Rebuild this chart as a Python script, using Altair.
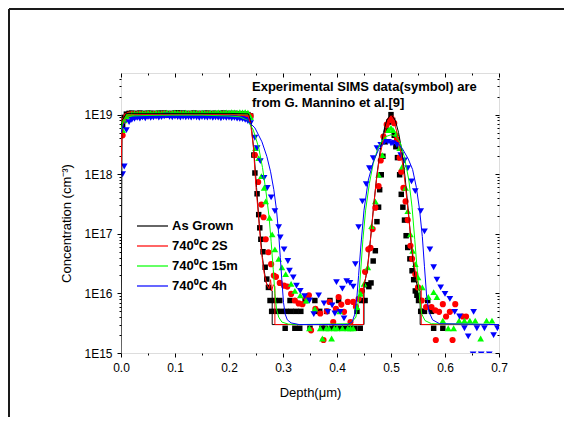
import altair as alt
import pandas as pd

# ---------------- data ----------------
series_names = ["As Grown", "740\u2070C 2S", "740\u2070C 15m", "740\u2070C 4h"]
series_colors = ["#000000", "#FF0000", "#00FF00", "#0000FF"]

plateau_depth = [0.003, 0.006, 0.01, 0.015, 0.02, 0.025, 0.03, 0.035, 0.04, 0.045, 0.05, 0.055,
                 0.06, 0.065, 0.07, 0.075, 0.08, 0.085, 0.09, 0.095, 0.1, 0.105, 0.11, 0.115,
                 0.12, 0.125, 0.13, 0.135, 0.14, 0.145, 0.15, 0.155, 0.16, 0.165, 0.17, 0.175,
                 0.18, 0.185, 0.19, 0.195, 0.2, 0.205, 0.21, 0.215, 0.22, 0.225, 0.23, 0.235, 0.24]

black_plateau = [6.5e18, 9e18, 1.02e19, 1.05e19, 1.06e19, 1.04e19, 1.05e19, 1.06e19, 1.05e19, 1.04e19,
                 1.06e19, 1.05e19, 1.05e19, 1.04e19, 1.06e19, 1.05e19, 1.06e19, 1.05e19, 1.04e19, 1.05e19,
                 1.06e19, 1.07e19, 1.05e19, 1.06e19, 1.05e19, 1.04e19, 1.05e19, 1.06e19, 1.05e19, 1.04e19,
                 1.05e19, 1.05e19, 1.06e19, 1.04e19, 1.05e19, 1.05e19, 1.04e19, 1.05e19, 1.06e19, 1.04e19,
                 1.05e19, 1.04e19, 1.05e19, 1.04e19, 1.03e19, 1.04e19, 1.02e19, 1.0e19, 9.5e18]
red_plateau = [4.5e18, 8e18, 9.5e18, 1.0e19, 1.02e19, 1.0e19, 1.01e19, 1.02e19, 1.0e19, 1.01e19,
               1.02e19, 1.0e19, 1.01e19, 1.02e19, 1.0e19, 1.01e19, 1.03e19, 1.01e19, 1.0e19, 1.02e19,
               1.01e19, 1.0e19, 1.02e19, 1.01e19, 1.0e19, 1.01e19, 1.02e19, 1.0e19, 1.01e19, 1.02e19,
               1.0e19, 1.01e19, 1.02e19, 1.01e19, 1.0e19, 1.02e19, 1.01e19, 1.0e19, 1.02e19, 1.01e19,
               1.0e19, 1.01e19, 1.02e19, 1.01e19, 1.0e19, 1.01e19, 1.0e19, 9.8e18, 9.5e18]
green_plateau = [5.5e18, 8e18, 9.5e18, 1.0e19, 1.03e19, 1.05e19, 1.04e19, 1.05e19, 1.06e19, 1.05e19,
                 1.07e19, 1.06e19, 1.05e19, 1.07e19, 1.06e19, 1.05e19, 1.07e19, 1.08e19, 1.06e19, 1.07e19,
                 1.08e19, 1.07e19, 1.06e19, 1.07e19, 1.08e19, 1.06e19, 1.07e19, 1.08e19, 1.07e19, 1.06e19,
                 1.08e19, 1.07e19, 1.06e19, 1.08e19, 1.07e19, 1.08e19, 1.09e19, 1.07e19, 1.08e19, 1.09e19,
                 1.08e19, 1.1e19, 1.09e19, 1.08e19, 1.1e19, 1.09e19, 1.1e19, 1.08e19, 9e18]
blue_plateau = [1.0e18, 1.35e18, 5.5e18, 7.5e18, 8.2e18, 8.5e18, 8.8e18, 8.6e18, 9e18, 8.7e18,
                9.1e18, 8.8e18, 9e18, 9.3e18, 8.9e18, 9.1e18, 9.4e18, 9.6e18, 9.2e18, 9e18,
                9.3e18, 9.1e18, 8.9e18, 9.2e18, 9e18, 9.1e18, 8.9e18, 9.2e18, 9e18, 8.8e18,
                9.1e18, 9e18, 8.9e18, 9.1e18, 8.8e18, 9e18, 8.9e18, 8.7e18, 9e18, 8.8e18,
                8.9e18, 8.7e18, 8.8e18, 8.6e18, 8.5e18, 8.4e18, 8.2e18, 7.8e18, 7.2e18]

black_tail_x = [0.246, 0.248, 0.252, 0.255, 0.257, 0.259, 0.263, 0.267, 0.270, 0.273, 0.276, 0.279,
                0.285, 0.288, 0.294, 0.297, 0.304, 0.306, 0.313, 0.315, 0.322, 0.324, 0.331, 0.333,
                0.341, 0.350, 0.359, 0.361, 0.368, 0.372, 0.378, 0.381, 0.387, 0.390, 0.396, 0.403,
                0.406, 0.415, 0.424, 0.433, 0.437, 0.443, 0.446, 0.452, 0.455, 0.459, 0.463, 0.467,
                0.471, 0.474, 0.477, 0.479, 0.482, 0.485, 0.489, 0.492, 0.496, 0.500, 0.503, 0.506,
                0.509, 0.512, 0.516, 0.519, 0.522, 0.525, 0.528, 0.531, 0.535, 0.539, 0.542, 0.545,
                0.548, 0.551, 0.555, 0.562, 0.568, 0.575, 0.579, 0.596]
black_tail_y = [2.1e18, 1.05e18, 4.7e17, 2.1e17, 1.26e17, 8.1e16, 5.0e16, 2.75e16, 1.74e16, 1.26e16, 7.6e15, 5.0e15,
                7.6e15, 5.0e15, 7.6e15, 5.0e15, 2.6e15, 5.0e15, 7.6e15, 5.0e15, 2.6e15, 5.0e15, 2.6e15, 5.0e15,
                7.6e15, 2.6e15, 7.6e15, 5.0e15, 5.0e15, 2.6e15, 2.6e15, 5.0e15, 7.6e15, 2.6e15, 2.6e15, 7.6e15,
                2.6e15, 2.6e15, 2.6e15, 2.6e15, 5.0e15, 2.6e15, 7.6e15, 7.6e15, 1.4e16, 1.3e16, 1.5e16, 3.5e16,
                5.2e16, 1.6e17, 2.8e17, 5.5e17, 9.8e17, 2.0e18, 3.5e18, 5.5e18, 7.5e18, 1.0e19, 8.0e18, 4.5e18,
                2.9e18, 1.9e18, 9.8e17, 4.6e17, 2.8e17, 1.7e17, 9.3e16, 5.9e16, 3.8e16, 2.4e16, 1.7e16, 1.1e16,
                9.3e15, 7.6e15, 5.0e15, 5.0e15, 7.6e15, 5.0e15, 2.6e15, 2.6e15]

red_tail_x = [0.248, 0.254, 0.260, 0.264, 0.268, 0.273, 0.278, 0.283, 0.287, 0.294, 0.302, 0.308,
              0.315, 0.322, 0.329, 0.336, 0.343, 0.348, 0.352, 0.360, 0.369, 0.375, 0.381, 0.386,
              0.393, 0.398, 0.403, 0.408, 0.413, 0.420, 0.425, 0.430, 0.435, 0.440, 0.446, 0.452,
              0.458, 0.462, 0.466, 0.471, 0.477, 0.481, 0.486, 0.492, 0.498, 0.501, 0.506, 0.511,
              0.516, 0.519, 0.523, 0.527, 0.531, 0.536, 0.539, 0.545, 0.550, 0.557, 0.565, 0.575,
              0.582, 0.583, 0.589, 0.596, 0.602, 0.609, 0.614, 0.619, 0.633, 0.639]
red_tail_y = [2.1e18, 7.4e17, 3.1e17, 1.9e17, 8.1e16, 4.9e16, 3.1e16, 2.0e16, 1.9e16, 1.5e16, 1.35e16, 1.3e16,
              9.8e15, 7.6e15, 6.8e15, 6.6e15, 8.5e15, 9.3e15, 2.4e15, 5.5e15, 4.6e15, 1.65e15, 5.0e15, 7.2e15,
              3.3e15, 5.5e15, 8.7e15, 6.5e15, 4.9e15, 7.2e15, 3.3e15, 7.2e15, 6.0e15, 8.1e15, 1.1e16, 2.3e16,
              5.5e16, 5.8e16, 1.2e17, 2.75e17, 6.3e17, 1.7e18, 4.3e18, 6.8e18, 8.1e18, 8.7e18, 7.2e18, 3.8e18,
              1.9e18, 1.1e18, 5.9e17, 3.5e17, 1.7e17, 6.3e16, 3.8e16, 2.1e16, 1.26e16, 7.6e15, 5.9e15, 5.9e15,
              5.2e15, 1.65e15, 4.9e15, 6.6e15, 4.1e15, 4.9e15, 1.65e15, 6.6e15, 4.1e15, 4.1e15]

green_tail_x = [0.249, 0.255, 0.260, 0.265, 0.268, 0.275, 0.280, 0.285, 0.292, 0.298, 0.305, 0.315,
                0.322, 0.332, 0.343, 0.349, 0.359, 0.369, 0.373, 0.380, 0.385, 0.390, 0.395, 0.400,
                0.405, 0.410, 0.420, 0.425, 0.430, 0.437, 0.444, 0.450, 0.457, 0.464, 0.471, 0.477,
                0.484, 0.489, 0.495, 0.500, 0.504, 0.510, 0.516, 0.521, 0.527, 0.531, 0.536, 0.540,
                0.545, 0.550, 0.558, 0.569, 0.579, 0.585, 0.596, 0.606, 0.616, 0.626, 0.636, 0.646,
                0.656, 0.666, 0.677, 0.687]
green_tail_y = [2.75e18, 1.86e18, 9.3e17, 5.9e17, 3.5e17, 1.86e17, 9.8e16, 5.5e16, 3.8e16, 2.75e16, 2.1e16, 1.45e16,
                1.1e16, 9.3e15, 7.6e15, 2.6e15, 5.5e15, 2.6e15, 1.75e15, 2.6e15, 2.6e15, 1.75e15, 2.6e15, 2.6e15,
                5.0e15, 2.6e15, 2.6e15, 2.6e15, 2.6e15, 5.9e15, 9.8e15, 1.45e16, 2.75e16, 1.35e17, 3.5e17, 9.8e17,
                2.1e18, 3.9e18, 5.5e18, 6.0e18, 5.5e18, 4.8e18, 2.75e18, 1.35e18, 5.9e17, 2.4e17, 9.8e16, 5.2e16,
                3.1e16, 1.86e16, 1.26e16, 8.7e15, 1.05e16, 8.7e15, 3.5e15, 2.6e15, 2.6e15, 3.5e15, 3.5e15, 3.5e15,
                3.5e15, 1.75e15, 3.5e15, 3.5e15]

blue_tail_x = [0.248, 0.252, 0.258, 0.265, 0.271, 0.278, 0.285, 0.292, 0.295, 0.302, 0.309, 0.312,
               0.319, 0.325, 0.332, 0.340, 0.349, 0.357, 0.366, 0.376, 0.383, 0.391, 0.396, 0.399,
               0.406, 0.410, 0.413, 0.418, 0.424, 0.430, 0.434, 0.440, 0.447, 0.454, 0.460, 0.467,
               0.474, 0.481, 0.488, 0.494, 0.500, 0.504, 0.511, 0.518, 0.525, 0.531, 0.538, 0.545,
               0.555, 0.562, 0.572, 0.579, 0.585, 0.592, 0.600, 0.609, 0.618, 0.627, 0.636, 0.643,
               0.653, 0.659, 0.673, 0.690, 0.697, 0.652, 0.667, 0.682]
blue_tail_y = [4.1e18, 2.75e18, 1.66e18, 8.7e17, 5.9e17, 4.1e17, 2.4e17, 1.3e17, 8.7e16, 5.5e16, 3.5e16, 2.4e16,
               1.86e16, 1.35e16, 1.1e16, 9.0e15, 7.6e15, 4.5e15, 9.3e15, 6.8e15, 4.9e15, 6.3e15, 4.6e15, 1.55e16,
               4.9e15, 1.2e16, 3.8e15, 1.6e16, 1.5e16, 1.3e16, 3.1e16, 1.3e17, 3.5e17, 6.8e17, 1.26e18, 1.86e18,
               2.75e18, 3.1e18, 3.5e18, 3.5e18, 3.3e18, 3.3e18, 3.1e18, 2.1e18, 1.7e18, 1.26e18, 7.6e17, 5.2e17,
               2.4e17, 1.1e17, 5.5e16, 2.75e16, 1.7e16, 1.26e16, 9.8e15, 8.1e15, 4.9e15, 4.1e15, 2.6e15, 1.9e15,
               4.9e15, 2.6e15, 2.6e15, 2.0e15, 2.6e15, 9.5e14, 9.5e14, 9.5e14]

# simulation curves
black_line_x = [0.0, 0.002, 0.01, 0.02, 0.1, 0.2, 0.236, 0.241, 0.246, 0.251, 0.256, 0.262, 0.268, 0.274,
                0.28, 0.28, 0.45, 0.45, 0.456, 0.462, 0.468, 0.474, 0.48, 0.486, 0.492, 0.5, 0.508, 0.514,
                0.52, 0.526, 0.532, 0.538, 0.544, 0.55, 0.554, 0.554, 0.7]
black_line_y = [1.0e15, 8e18, 1.04e19, 1.05e19, 1.05e19, 1.05e19, 1.03e19, 7e18, 2.5e18, 6e17, 1.5e17, 4e16,
                1.6e16, 1.2e16, 1.1e16, 3e15, 3e15, 1.3e16, 2.5e16, 8e16, 3e17, 1e18, 2.5e18, 5e18, 8e18,
                1.02e19, 8e18, 5e18, 2.5e18, 9e17, 2.5e17, 6e16, 2e16, 1.2e16, 1.1e16, 3e15, 3e15]

red_line_x = [0.0, 0.002, 0.006, 0.015, 0.03, 0.1, 0.2, 0.235, 0.24, 0.245, 0.25, 0.255, 0.26, 0.265,
              0.27, 0.274, 0.277, 0.279, 0.282, 0.285, 0.285, 0.449, 0.449, 0.453, 0.458, 0.463, 0.468,
              0.473, 0.478, 0.484, 0.49, 0.495, 0.5, 0.505, 0.51, 0.516, 0.522, 0.527, 0.532, 0.537,
              0.542, 0.547, 0.552, 0.556, 0.556, 0.7]
red_line_y = [1.3e18, 5.5e18, 8.5e18, 9.8e18, 1.0e19, 1.0e19, 1.0e19, 9.8e18, 7e18, 3e18, 6e17, 1.8e17,
              5e16, 2.2e16, 1.4e16, 1.2e16, 1.7e16, 1.1e16, 1.4e16, 1.3e16, 3e15, 3e15, 1.4e16, 1.8e16,
              3.5e16, 1e17, 3e17, 8e17, 1.7e18, 3.2e18, 5.5e18, 7.8e18, 9e18, 7.8e18, 5.5e18, 3e18,
              1.4e18, 6e17, 2.2e17, 8e16, 3.5e16, 1.8e16, 1.3e16, 1.2e16, 3e15, 3e15]

green_line_x = [0.0, 0.004, 0.01, 0.02, 0.05, 0.1, 0.15, 0.2, 0.22, 0.235, 0.245, 0.255, 0.262, 0.268,
                0.274, 0.278, 0.282, 0.285, 0.288, 0.292, 0.298, 0.31, 0.33, 0.425, 0.435, 0.44, 0.444,
                0.448, 0.453, 0.46, 0.467, 0.475, 0.483, 0.491, 0.5, 0.509, 0.517, 0.525, 0.533, 0.539,
                0.544, 0.549, 0.553, 0.557, 0.563, 0.575, 0.7]
green_line_y = [5.5e18, 8e18, 9e18, 9.5e18, 9.7e18, 9.8e18, 9.8e18, 9.5e18, 9.2e18, 8e18, 5.5e18, 2.8e18,
                1.3e18, 5.5e17, 2e17, 7.5e16, 2.5e16, 1e16, 5.5e15, 4e15, 3.3e15, 3.05e15, 3e15, 3.1e15,
                4e15, 8e15, 2.5e16, 8e16, 2.5e17, 7e17, 1.5e18, 2.6e18, 3.6e18, 4.3e18, 4.6e18, 4.3e18,
                3.4e18, 1.9e18, 8e17, 2.8e17, 8e16, 2.2e16, 8e15, 4.5e15, 3.5e15, 3.1e15, 3e15]

blue_line_x = [0.0, 0.005, 0.01, 0.02, 0.05, 0.1, 0.15, 0.2, 0.22, 0.235, 0.248, 0.261, 0.27, 0.277,
               0.283, 0.288, 0.292, 0.295, 0.298, 0.301, 0.304, 0.308, 0.315, 0.33, 0.42, 0.428, 0.433,
               0.437, 0.44, 0.444, 0.45, 0.458, 0.467, 0.477, 0.488, 0.5, 0.512, 0.522, 0.532, 0.54,
               0.547, 0.553, 0.558, 0.562, 0.566, 0.57, 0.577, 0.59, 0.7]
blue_line_y = [5e18, 7e18, 7.8e18, 8.4e18, 8.8e18, 9e18, 9e18, 8.8e18, 8.5e18, 7.8e18, 6e18, 3.5e18,
               2e18, 1.1e18, 5.5e17, 2.5e17, 1e17, 4e16, 1.6e16, 7e15, 4.5e15, 3.6e15, 3.2e15, 3e15,
               3e15, 3.3e15, 4.5e15, 9e15, 2e16, 6e16, 2.5e17, 8e17, 1.6e18, 2.6e18, 3.4e18, 3.8e18,
               3.4e18, 2.6e18, 1.8e18, 1.2e18, 6e17, 2.5e17, 9e16, 2.8e16, 9e15, 5e15, 3.6e15, 3.1e15, 3e15]

x_major = [0.0, 0.1, 0.2, 0.3, 0.4, 0.5, 0.6, 0.7]
x_minor = [0.05, 0.15, 0.25, 0.35, 0.45, 0.55, 0.65]
y_major = [1e15, 1e16, 1e17, 1e18, 1e19]
y_minor = [m * d for d in [1e15, 1e16, 1e17, 1e18] for m in range(2, 10)] + [2e19, 3e19, 4e19]

annotation_lines = ["Experimental SIMS data(symbol) are", "from G. Mannino et al.[9]"]

# ---------------- chart ----------------
W, H = 378, 280
xs = alt.Scale(domain=[0, 0.7], nice=False, zero=False)
ys = alt.Scale(type="log", domain=[1e15, 5e19], nice=False)
FONT = "Liberation Sans"

def sym(xv, yv, shape, color, size):
    df = pd.DataFrame({"depth": xv, "conc": yv})
    return alt.Chart(df).mark_point(shape=shape, filled=True, size=size, opacity=1,
                                    color=color, clip=True, strokeWidth=0).encode(
        x=alt.X("depth:Q", scale=xs, axis=None),
        y=alt.Y("conc:Q", scale=ys, axis=None))

def line(xv, yv, color):
    df = pd.DataFrame({"depth": xv, "conc": yv, "idx": list(range(len(xv)))})
    return alt.Chart(df).mark_line(color=color, strokeWidth=1, clip=True).encode(
        x=alt.X("depth:Q", scale=xs, axis=None),
        y=alt.Y("conc:Q", scale=ys, axis=None),
        order="idx:Q")

dummy = pd.DataFrame({"depth": [0.0], "conc": [1e15]})

def axis_layer(xaxis, yaxis):
    return alt.Chart(dummy).mark_point(opacity=0).encode(
        x=alt.X("depth:Q", scale=xs, axis=xaxis),
        y=alt.Y("conc:Q", scale=ys, axis=yaxis))

common = dict(grid=False, domain=False, tickColor="black", tickWidth=1,
              labelFont=FONT, titleFont=FONT, labelColor="black", titleColor="black")

ax_main = axis_layer(
    alt.Axis(orient="bottom", values=x_major, format=".1f", tickSize=4, labelFontSize=12,
             labelPadding=5, title="Depth(\u03bcm)", titleFontSize=13, titleFontWeight="normal",
             titlePadding=13, labelFlush=False, **common),
    alt.Axis(orient="left", values=y_major, tickSize=4, labelFontSize=12, labelPadding=5,
             labelExpr="'1E' + round(log(datum.value) / LN10)",
             title="Concentration (cm\u207b\u00b3)", titleFontSize=13, titleFontWeight="normal",
             titleX=-48, titleY=150, **common))
ax_minor = axis_layer(
    alt.Axis(orient="bottom", values=x_minor, tickSize=2, labels=False, title=None, **common),
    alt.Axis(orient="left", values=y_minor, tickSize=2, labels=False, title=None, **common))
ax_opp_major = axis_layer(
    alt.Axis(orient="bottom", offset=-H, values=x_major, tickSize=4, labels=False, title=None, **common),
    alt.Axis(orient="left", offset=-W, values=y_major, tickSize=4, labels=False, title=None, **common))
ax_opp_minor = axis_layer(
    alt.Axis(orient="bottom", offset=-H, values=x_minor, tickSize=2, labels=False, title=None, **common),
    alt.Axis(orient="left", offset=-W, values=y_minor, tickSize=2, labels=False, title=None, **common))

symbols = [
    sym(plateau_depth + black_tail_x, black_plateau + black_tail_y, "square", series_colors[0], 30),
    sym(plateau_depth + red_tail_x, red_plateau + red_tail_y, "circle", series_colors[1], 38),
    sym(plateau_depth + green_tail_x, green_plateau + green_tail_y, "triangle-up", series_colors[2], 45),
    sym(plateau_depth + blue_tail_x, blue_plateau + blue_tail_y, "triangle-down", series_colors[3], 45),
]
lines = [
    line(black_line_x, black_line_y, series_colors[0]),
    line(red_line_x, red_line_y, series_colors[1]),
    line(green_line_x, green_line_y, series_colors[2]),
    line(blue_line_x, blue_line_y, series_colors[3]),
]

# manual legend
legend_layers = []
for i, (name, col) in enumerate(zip(series_names, series_colors)):
    yy = 153 + 20 * i
    legend_layers.append(alt.Chart(dummy).mark_rule(color=col, strokeWidth=1.2).encode(
        x=alt.value(16), x2=alt.value(47), y=alt.value(yy)))
    legend_layers.append(alt.Chart(dummy).mark_text(align="left", baseline="middle", font=FONT,
                                                    fontSize=13, fontWeight="bold", color="black").encode(
        x=alt.value(51), y=alt.value(yy), text=alt.value(name)))

annot = [alt.Chart(dummy).mark_text(align="left", baseline="middle", font=FONT, fontSize=13,
                                    fontWeight="bold", color="black").encode(
    x=alt.value(131), y=alt.value(14 + 16 * i), text=alt.value(t)) for i, t in enumerate(annotation_lines)]

# page frame (decoration)
frame = [
    alt.Chart(dummy).mark_rule(color="#1a1a1a", strokeWidth=2).encode(
        x=alt.value(-112), x2=alt.value(520), y=alt.value(-64)),
    alt.Chart(dummy).mark_rule(color="#1a1a1a", strokeWidth=2).encode(
        x=alt.value(-112), y=alt.value(-64), y2=alt.value(420)),
]

chart = alt.layer(
    ax_main, ax_minor, ax_opp_major, ax_opp_minor,
    *symbols, *lines, *legend_layers, *annot, *frame
).resolve_axis(x="independent", y="independent").properties(
    width=W, height=H, autosize=alt.AutoSizeParams(type="none"),
    padding={"left": 113, "top": 65, "right": 65, "bottom": 64}
).configure_view(stroke="black", strokeWidth=1).configure(background="white")

chart.save("out.html", embed_options={"renderer": "svg", "actions": False})
